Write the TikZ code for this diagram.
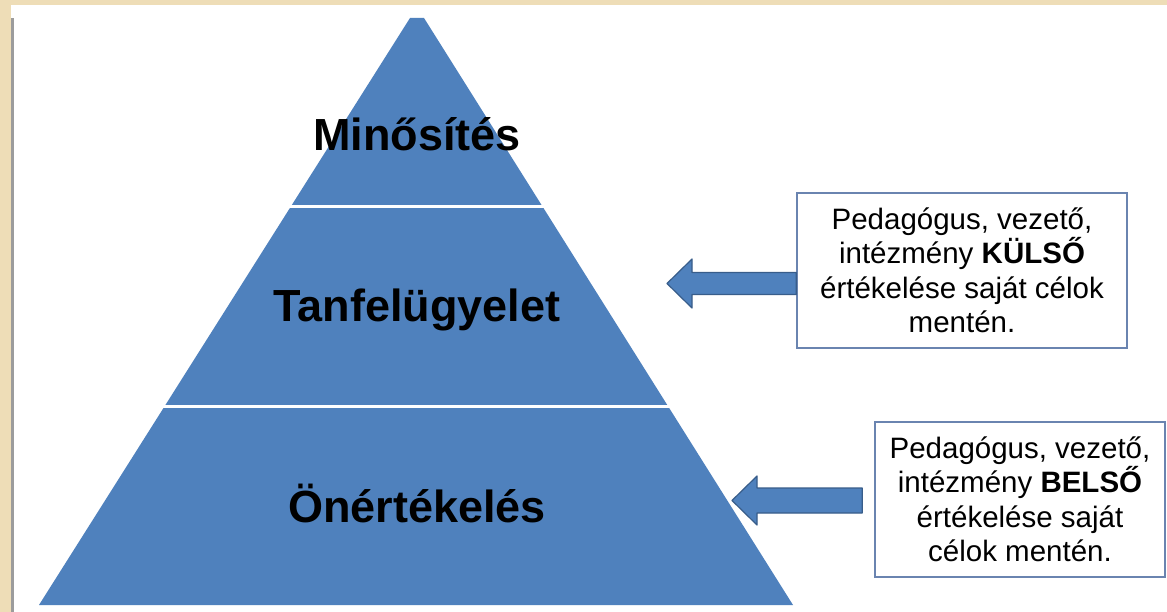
\documentclass[tikz,border=0pt]{standalone}
\usepackage{fontspec}
\setsansfont{Liberation Sans}
\usepackage{xcolor}
\usepackage{tikz}
\usetikzlibrary{calc,positioning}
\definecolor{parch}{HTML}{EEDDB7}
\definecolor{pyblue}{HTML}{4F81BD}
\definecolor{pyedge}{HTML}{385D8A}
\definecolor{boxline}{HTML}{6A84B0}
\definecolor{sidebar}{HTML}{9C9C9C}
\tikzset{
  font=\sffamily,
  level/.style={fill=pyblue, draw=none},
  levellabel/.style={
    font=\sffamily\bfseries\fontsize{45}{54}\selectfont, text=black,
    anchor=base, inner sep=0pt
  },
  sepline/.style={draw=white, line width=3pt},
  notebox/.style={
    draw=boxline, line width=1.6pt, fill=white, text=black, align=center,
    inner sep=0pt, minimum height=155pt,
    font=\sffamily\fontsize{29.5}{34.5}\selectfont
  },
  barrow/.style={fill=pyblue, draw=pyedge, line width=1.2pt, line join=round}
}

\begin{document}
\begin{tikzpicture}[x=1pt,y=-1pt]
  % page
  \fill[parch] (0,0) rectangle (1167,612);
  \fill[white] (11,5) rectangle (1167,612);
  \fill[sidebar] (11,18) rectangle (14,612);
  \useasboundingbox (0,0) rectangle (1167,612);

  % pyramid
  \coordinate (tl) at (410,18);
  \coordinate (tr) at (424,18);
  \coordinate (bl) at (39,605);
  \coordinate (br) at (793,605);
  \fill[level] (tl) -- (tr) -- (br) -- (bl) -- cycle;
  \draw[sepline] ($(tl)!0.3203!(bl)+(-3,0)$) -- ($(tr)!0.3203!(br)+(3,0)$);
  \draw[sepline] ($(tl)!0.661!(bl)+(-3,0)$) -- ($(tr)!0.661!(br)+(3,0)$);

  \node[levellabel] (minos) at (417,151) {Minősítés};
  \node[levellabel] (tanf)  at (417,321) {Tanfelügyelet};
  \node[levellabel] (oner)  at (417,522) {Önértékelés};

  % notes
  \node[notebox, minimum width=330pt] (kulso) at (962,270.5)
    {Pedagógus, vezető,\\intézmény \textbf{KÜLSŐ}\\értékelése saját célok\\mentén.};
  \node[notebox, minimum width=290pt] (belso) at (1020,499.5)
    {Pedagógus, vezető,\\intézmény \textbf{BELSŐ}\\értékelése saját\\célok mentén.};

  % arrows
  \coordinate (kTip) at (667,283.5);
  \coordinate (kEnd) at (kTip -| kulso.west);
  \draw[barrow] (kTip) -- ($(kTip)+(25,-24.5)$) -- ($(kTip)+(25,-11)$)
    -- ($(kEnd)+(0,-11)$) -- ($(kEnd)+(0,11)$) -- ($(kTip)+(25,11)$)
    -- ($(kTip)+(25,24.5)$) -- cycle;
  \coordinate (bTip) at (732,500.5);
  \coordinate (bEnd) at ($(bTip -| belso.west)+(-12,0)$);
  \draw[barrow] (bTip) -- ($(bTip)+(25,-24.5)$) -- ($(bTip)+(25,-12.5)$)
    -- ($(bEnd)+(0,-12.5)$) -- ($(bEnd)+(0,12.5)$) -- ($(bTip)+(25,12.5)$)
    -- ($(bTip)+(25,24.5)$) -- cycle;
\end{tikzpicture}
\end{document}
